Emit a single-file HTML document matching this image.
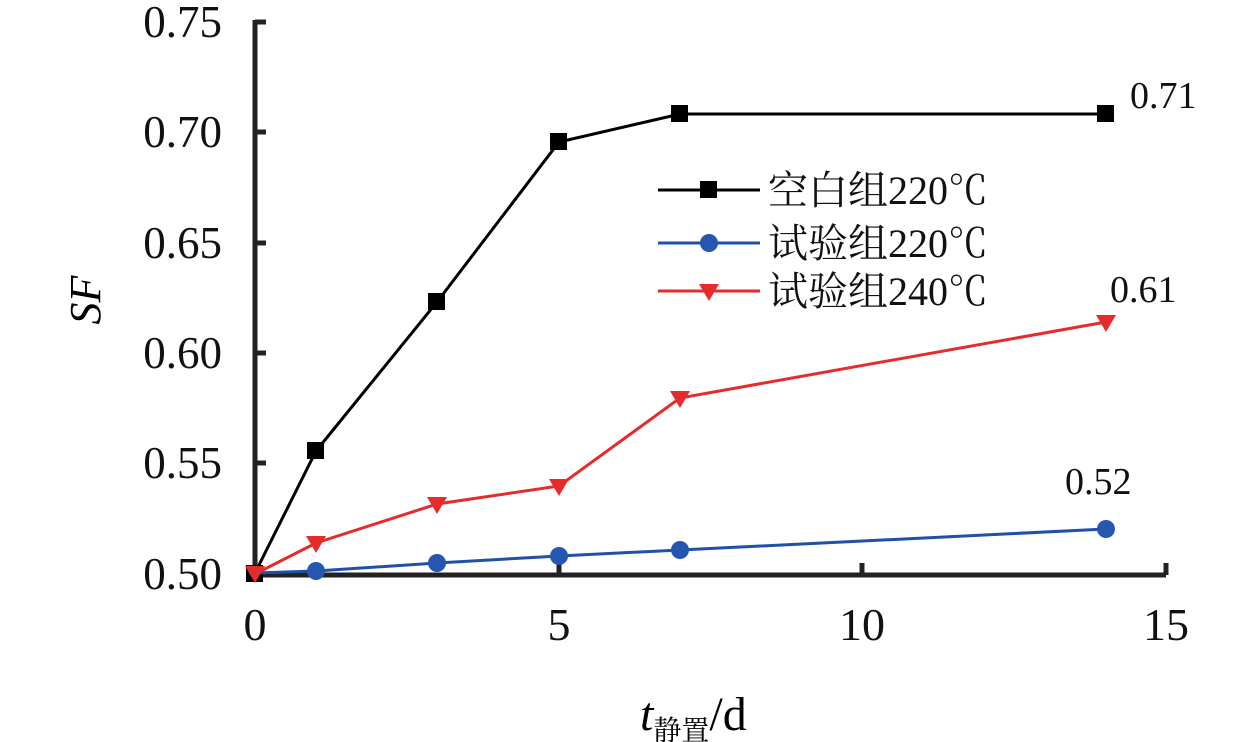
<!DOCTYPE html><html><head><meta charset="utf-8"><style>body{margin:0;background:#fff}svg{display:block}text{font-family:"Liberation Serif","Noto Serif CJK SC",serif}</style></head><body>
<svg width="1259" height="742" viewBox="0 0 1259 742">
<g stroke="#222" stroke-width="5" fill="none">
<path d="M255 20V575H1166"/>
<path d="M255 22H266M255 132H266M255 243H266M255 353H266M255 463H266M559 575V563M862 575V563M1166 575V563"/>
</g>
<g font-size="45" fill="#111" text-anchor="end">
<text x="222" y="37">0.75</text><text x="222" y="147">0.70</text><text x="222" y="258">0.65</text><text x="222" y="368">0.60</text><text x="222" y="478">0.55</text><text x="222" y="589">0.50</text>
</g>
<g font-size="46" fill="#111" text-anchor="middle">
<text x="255" y="640">0</text><text x="559" y="640">5</text><text x="862" y="640">10</text><text x="1166" y="640">15</text>
</g>
<text x="100" y="300" font-size="44" font-style="italic" text-anchor="middle" transform="rotate(-90 100 300)">SF</text>
<text x="640" y="730" font-size="48"><tspan font-style="italic">t</tspan><tspan font-size="28" dy="10">静置</tspan><tspan dy="-10">/d</tspan></text>
<polyline points="255,573 316,451 437,302 559,142 680,114 1106,114" fill="none" stroke="#000" stroke-width="3"/>
<g fill="#000"><rect x="307" y="442" width="17" height="17"/><rect x="428" y="293" width="17" height="17"/><rect x="550" y="133" width="17" height="17"/><rect x="671" y="105" width="17" height="17"/><rect x="1097" y="105" width="17" height="17"/><rect x="246" y="565" width="17" height="17"/></g>
<polyline points="255,573 316,571 437,563 559,556 680,550 1106,529" fill="none" stroke="#2050a8" stroke-width="3"/>
<g fill="#2557b0"><ellipse cx="316" cy="571" rx="9" ry="9"/><ellipse cx="437" cy="563" rx="9" ry="9"/><ellipse cx="559" cy="556" rx="9" ry="9"/><ellipse cx="680" cy="550" rx="9" ry="9"/><ellipse cx="1106" cy="529" rx="9" ry="9"/></g>
<polyline points="255,574 316,543 437,504 559,486 680,398 1106,322" fill="none" stroke="#e52b2b" stroke-width="3"/>
<g fill="#e52b2b"><path d="M245 566h20l-10 17z"/><path d="M306 536h20l-10 17z"/><path d="M427 497h20l-10 17z"/><path d="M549 479h20l-10 17z"/><path d="M670 391h20l-10 17z"/><path d="M1096 315h20l-10 17z"/></g>
<g font-size="38" fill="#111"><text x="1130" y="108">0.71</text><text x="1110" y="302">0.61</text><text x="1065" y="494">0.52</text></g>
<line x1="658" y1="190" x2="760" y2="190" stroke="#000" stroke-width="3"/><rect x="700" y="181" width="17" height="17" fill="#000"/>
<line x1="658" y1="243" x2="760" y2="243" stroke="#2050a8" stroke-width="3"/><circle cx="709" cy="243" r="9" fill="#2557b0"/>
<line x1="658" y1="291" x2="760" y2="291" stroke="#e52b2b" stroke-width="3"/><path d="M699 284h20l-10 17z" fill="#e52b2b"/>
<g font-size="40" fill="#111"><text x="768" y="204">空白组220℃</text><text x="768" y="257">试验组220℃</text><text x="768" y="305">试验组240℃</text></g>
</svg></body></html>
